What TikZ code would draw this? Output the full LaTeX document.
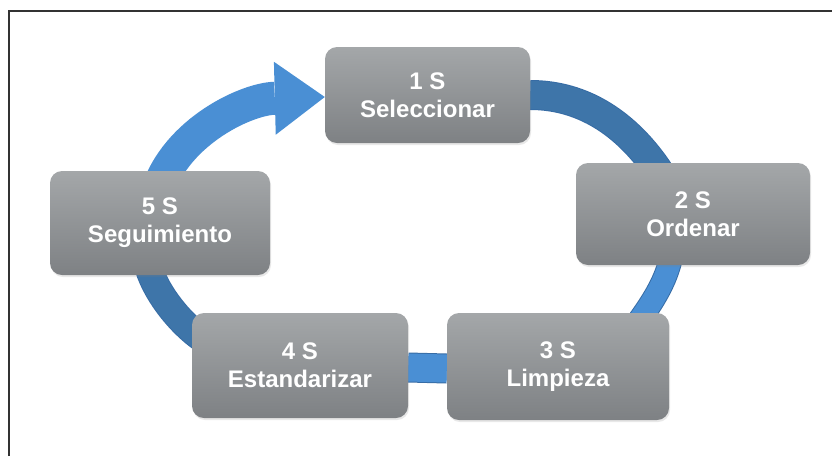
\documentclass[tikz,border=0pt]{standalone}
\usepackage{fontspec}
\setsansfont{Liberation Sans}
\usetikzlibrary{arrows.meta, backgrounds, shadows}
\definecolor{boxtop}{RGB}{164,167,169}
\definecolor{boxbottom}{RGB}{126,129,132}
\definecolor{ringdark}{RGB}{62,117,169}
\definecolor{ringlight}{RGB}{74,143,212}
\definecolor{ringedge}{RGB}{55,108,165}
\tikzset{
  sbox/.style={rounded corners=12pt, top color=boxtop, bottom color=boxbottom,
    text=white, align=center, inner sep=0pt,
    font=\sffamily\bfseries\fontsize{24}{28}\selectfont,
    drop shadow={opacity=0.18, shadow xshift=1pt, shadow yshift=-2pt}},
  ringseg/.style={draw=ringedge, line width=1pt, double=#1, double distance=28pt},
  ringarrow/.style={draw=ringlight, line width=33pt,
    -{Triangle[length=50pt, width=73pt, line width=0pt]}}
}
\begin{document}
\begin{tikzpicture}[x=1pt, y=-1pt]
  \useasboundingbox (0,0) rectangle (832,456);
  \draw[line width=1.8pt, black!80] (9,456) -- (9,11) -- (832,11);

  \node[sbox, minimum width=205pt, minimum height=96pt] (s1) at (427.5,95) {1 S\\Seleccionar};
  \node[sbox, minimum width=234pt, minimum height=102pt] (s2) at (693,214) {2 S\\Ordenar};
  \node[sbox, minimum width=222pt, minimum height=107pt] (s3) at (558,366.5) {3 S\\Limpieza};
  \node[sbox, minimum width=216pt, minimum height=105pt] (s4) at (300,365.5) {4 S\\Estandarizar};
  \node[sbox, minimum width=220pt, minimum height=104pt] (s5) at (160,223) {5 S\\Seguimiento};

  \begin{scope}[on background layer]
    \draw[ringseg=ringdark] (s1.east) .. controls +(70,0) and +(-25,-45) .. ([shift={(-23,27)}]s2.north);
    \draw[ringseg=ringlight, double distance=22pt] ([shift={(-19,-30)}]s2.south) .. controls +(-2,40) and +(30,-40) .. ([shift={(67,27)}]s3.north);
    \draw[ringseg=ringlight] ([shift={(0,2)}]s3.west) -- ([shift={(0,2)}]s4.east);
    \draw[ringseg=ringdark, double distance=26pt] ([shift={(23,-20)}]s4.west) .. controls +(-25,-10) and +(3,40) .. ([shift={(-15,-25)}]s5.south);
    \draw[ringarrow] ([shift={(-5,29)}]s5.north) .. controls +(15,-65) and +(-80,2) .. ([shift={(0,2)}]s1.west);
  \end{scope}
\end{tikzpicture}
\end{document}
